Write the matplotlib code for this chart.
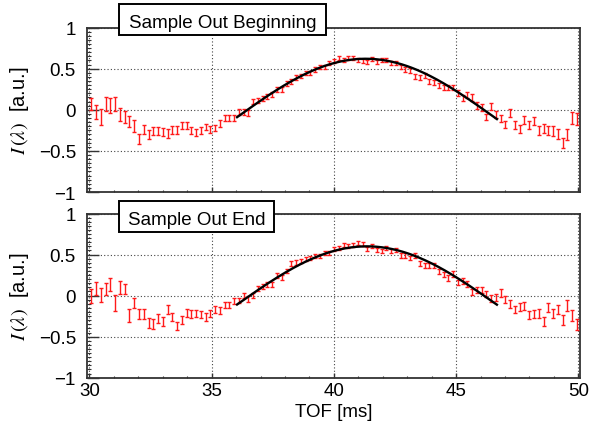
import numpy as np
import matplotlib
matplotlib.use("Agg")
import matplotlib.pyplot as plt
from matplotlib.patches import Rectangle
from matplotlib.ticker import MultipleLocator, FuncFormatter

plt.rcParams['font.family'] = ['Liberation Sans', 'DejaVu Sans']
plt.rcParams['mathtext.fontset'] = 'stix'

# ---- measured intensity vs. time of flight ----
tof_first, tof_last, n_bins = 30.08, 49.94, 103

beginning_vals = [
    0.07, -0.03, -0.09, 0.07, 0.05, 0.07, -0.06, -0.09, -0.14, -0.20,
    -0.36, -0.24, -0.30, -0.26, -0.26, -0.27, -0.29, -0.25, -0.25, -0.19,
    -0.19, -0.25, -0.28, -0.25, -0.21, -0.24,
    -0.22, -0.17, -0.10, -0.10, -0.10, -0.03, -0.03, -0.04, 0.10, 0.11,
    0.14, 0.16, 0.18, 0.25, 0.25, 0.32, 0.34, 0.39, 0.41, 0.45,
    0.45, 0.49, 0.52, 0.52, 0.57, 0.59,
    0.63, 0.61, 0.63, 0.63, 0.61, 0.59, 0.58, 0.62, 0.58, 0.61,
    0.61, 0.57, 0.57, 0.52, 0.49, 0.48, 0.40, 0.39, 0.42, 0.34,
    0.33, 0.30, 0.27, 0.27, 0.27,
    0.20, 0.14, 0.18, 0.15, 0.05, 0.03, -0.09, 0.04, -0.06, -0.11,
    -0.18, -0.04, -0.18, -0.23, -0.12, -0.19, -0.14, -0.25, -0.23, -0.25,
    -0.26, -0.29, -0.40, -0.30, -0.10, -0.11,
]
beginning_errs = [
    0.07, 0.085, 0.10, 0.09, 0.09, 0.08, 0.08, 0.075, 0.07, 0.07,
    0.06, 0.055, 0.055, 0.05, 0.05, 0.05, 0.05, 0.05, 0.05, 0.045,
    0.045, 0.045, 0.045, 0.04, 0.04, 0.04,
    0.04, 0.04, 0.035, 0.035, 0.035, 0.035, 0.035, 0.035, 0.03, 0.03,
    0.03, 0.03, 0.03, 0.03, 0.03, 0.028, 0.028, 0.028, 0.025, 0.025,
    0.025, 0.025, 0.025, 0.025, 0.025, 0.025,
    0.025, 0.025, 0.025, 0.025, 0.025, 0.025, 0.025, 0.025, 0.025, 0.025,
    0.025, 0.025, 0.025, 0.028, 0.028, 0.028, 0.03, 0.03, 0.03, 0.03,
    0.03, 0.03, 0.032, 0.032, 0.035,
    0.035, 0.035, 0.038, 0.038, 0.04, 0.04, 0.04, 0.042, 0.042, 0.045,
    0.045, 0.045, 0.048, 0.048, 0.05, 0.05, 0.05, 0.052, 0.055, 0.055,
    0.058, 0.06, 0.06, 0.065, 0.07, 0.07,
]

end_vals = [
    -0.01, 0.09, 0.01, 0.08, 0.14, -0.09, 0.10, 0.08, -0.24, -0.09,
    -0.22, -0.22, -0.33, -0.35, -0.28, -0.31, -0.17, -0.26, -0.37, -0.30,
    -0.21, -0.22, -0.22, -0.23, -0.26, -0.22,
    -0.17, -0.18, -0.11, -0.11, -0.07, -0.06, 0.00, -0.04, 0.00, 0.09,
    0.11, 0.13, 0.13, 0.24, 0.22, 0.30, 0.39, 0.40, 0.42, 0.45,
    0.46, 0.48, 0.48, 0.52, 0.52, 0.57,
    0.58, 0.62, 0.60, 0.62, 0.64, 0.63, 0.57, 0.60, 0.55, 0.54,
    0.58, 0.54, 0.56, 0.49, 0.49, 0.46, 0.49, 0.39, 0.37, 0.37,
    0.37, 0.29, 0.26, 0.21, 0.26, 0.16,
    0.18, 0.14, 0.04, 0.07, 0.07, 0.02, -0.03, -0.02, 0.03, -0.05,
    -0.10, -0.17, -0.14, -0.13, -0.24, -0.22, -0.22, -0.32, -0.15, -0.22,
    -0.17, -0.30, -0.12, -0.24, -0.35,
]
end_errs = [
    0.085, 0.08, 0.085, 0.07, 0.08, 0.10, 0.075, 0.065, 0.08, 0.065,
    0.06, 0.06, 0.06, 0.06, 0.055, 0.055, 0.055, 0.05, 0.05, 0.05,
    0.048, 0.048, 0.045, 0.045, 0.045, 0.045,
    0.04, 0.04, 0.038, 0.038, 0.035, 0.035, 0.035, 0.035, 0.032, 0.03,
    0.03, 0.03, 0.03, 0.03, 0.03, 0.028, 0.028, 0.028, 0.025, 0.025,
    0.025, 0.025, 0.025, 0.025, 0.025, 0.025,
    0.025, 0.025, 0.025, 0.025, 0.025, 0.025, 0.025, 0.025, 0.025, 0.025,
    0.025, 0.025, 0.025, 0.028, 0.028, 0.028, 0.03, 0.03, 0.03, 0.03,
    0.03, 0.032, 0.032, 0.035, 0.035, 0.035,
    0.035, 0.038, 0.038, 0.04, 0.04, 0.04, 0.042, 0.042, 0.045, 0.045,
    0.045, 0.048, 0.048, 0.05, 0.05, 0.05, 0.052, 0.055, 0.055, 0.058,
    0.06, 0.06, 0.065, 0.07, 0.07,
]

# cosine fits: offset, amplitude, centre [ms], angular freq [1/ms], fit range [ms]
fit_beginning = dict(c=-0.085, a=0.705, t0=41.3, k=0.30, lo=36.04, hi=46.67)
fit_end = dict(c=-0.093, a=0.693, t0=41.35, k=0.30, lo=36.04, hi=46.67)

panel_titles = ["Sample Out Beginning", "Sample Out End"]
x_label = "TOF [ms]"
y_label = r"$I\,(\lambda)$  [a.u.]"

tof = np.linspace(tof_first, tof_last, n_bins)

W, H = 611, 427
fig = plt.figure(figsize=(W / 100, H / 100), dpi=100)

frame_col = '#333333'


def px_box(x0, y0, x1, y1):
    """Figure-fraction rectangle from pixel corners (top-left origin)."""
    return [x0 / W, 1 - y1 / H, (x1 - x0) / W, (y1 - y0) / H]


ax_top = fig.add_axes(px_box(87, 28.5, 580, 193))
ax_bot = fig.add_axes(px_box(87, 214.5, 580, 378.7))

fmt = FuncFormatter(lambda v, _: f"{v:g}".replace("-", "\u2212"))

panels = [
    (ax_top, beginning_vals, beginning_errs, fit_beginning),
    (ax_bot, end_vals, end_errs, fit_end),
]

for ax, vals, errs, fp in panels:
    ax.errorbar(tof, vals, yerr=errs, fmt='none', ecolor='#ff1a1a',
                elinewidth=1.0, capsize=1.3, capthick=1.0, zorder=3)
    tf = np.linspace(fp['lo'], fp['hi'], 200)
    ax.plot(tf, fp['c'] + fp['a'] * np.cos(fp['k'] * (tf - fp['t0'])),
            color='black', lw=1.7, zorder=4)

    ax.set_xlim(29.9, 50.07)
    ax.set_ylim(-1.0, 1.0)
    ax.xaxis.set_major_locator(MultipleLocator(5))
    ax.xaxis.set_minor_locator(MultipleLocator(1))
    ax.yaxis.set_major_locator(MultipleLocator(0.5))
    ax.yaxis.set_minor_locator(MultipleLocator(0.05))
    ax.yaxis.set_major_formatter(fmt)
    ax.grid(True, which='major', linestyle=(0, (1, 2)), color='#444444',
            linewidth=0.8)
    ax.tick_params(axis='both', which='both', direction='in',
                   colors=frame_col, labelcolor='black', labelsize=13.5)
    ax.tick_params(axis='y', which='major', length=8.6, width=1.0, pad=8)
    ax.tick_params(axis='y', which='minor', length=2.9, width=0.8)
    ax.tick_params(axis='x', which='major', length=3.6, width=1.0, pad=3)
    ax.tick_params(axis='x', which='minor', length=1.8, width=0.8)
    ax.tick_params(right=False, top=False)
    for sp in ax.spines.values():
        sp.set_color(frame_col)
        sp.set_linewidth(1.3)

ax_top.tick_params(axis='x', labelbottom=False)
ax_bot.set_xlabel(x_label, fontsize=13.5, labelpad=3)

# y-axis titles
for yc in (110.5, 296.7):
    fig.text(20 / W, 1 - yc / H, y_label, rotation=90, ha='center',
             va='center', fontsize=14.5)

# panel title boxes
boxes = [((119, 5, 326, 36), 28.5), ((119, 202, 274, 233), 225.0)]
for (bx, baseline), title in zip(boxes, panel_titles):
    x0, y0, x1, y1 = bx
    fig.add_artist(Rectangle((x0 / W, 1 - y1 / H), (x1 - x0) / W,
                             (y1 - y0) / H, transform=fig.transFigure,
                             facecolor='white', edgecolor='black',
                             linewidth=1.4, zorder=5))
    fig.text((x0 + x1) / 2 / W, 1 - baseline / H, title, ha='center',
             va='baseline', fontsize=13.5, zorder=6)

fig.savefig("out.png", dpi=100)
